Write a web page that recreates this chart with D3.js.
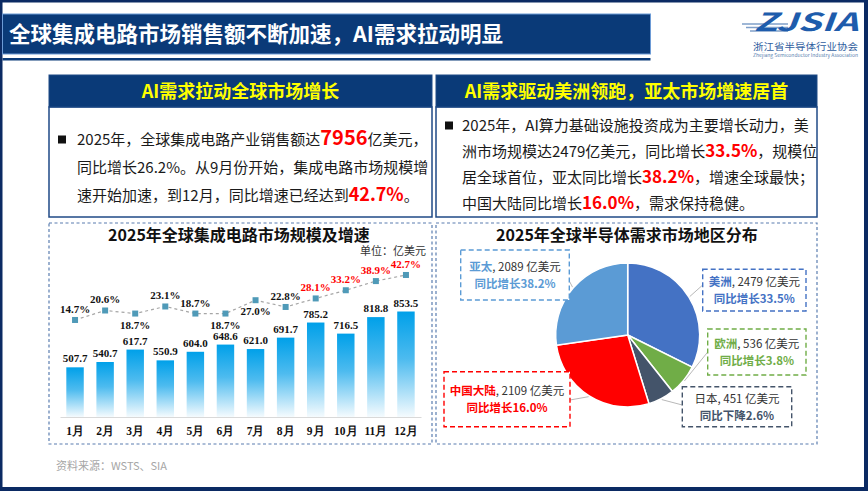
<!DOCTYPE html>
<html>
<head>
<meta charset="utf-8">
<script src="https://cdn.jsdelivr.net/npm/d3@7"></script>
<style>
  body { margin: 0; background: #fff; }
  svg { display: block; }
  text { font-family: "Noto Sans CJK SC", "Noto Sans", sans-serif; }
  .num { font-family: "Liberation Serif", "Times New Roman", serif; font-weight: bold; }
</style>
</head>
<body>
<div id="slide"></div>
<script>
// ---- data ----
const months = ["1月", "2月", "3月", "4月", "5月", "6月", "7月", "8月", "9月", "10月", "11月", "12月"];
const sales = [507.7, 540.7, 617.7, 550.9, 604.0, 648.6, 621.0, 691.7, 785.2, 716.5, 818.8, 853.5];
const growth = [14.7, 20.6, 18.7, 23.1, 18.7, 18.7, 27.0, 22.8, 28.1, 33.2, 38.9, 42.7];

const regions = ["美洲", "欧洲", "日本", "中国大陆", "亚太"];
const regionValues = [2479, 536, 451, 2109, 2089];
const regionChange = [33.5, 3.8, -2.6, 16.0, 38.2];

const W = 868, H = 491;
const navy = "#0a3a78";
const svg = d3.select("#slide").append("svg")
    .attr("width", W)
    .attr("height", H);

const defs = svg.append("defs");

// ---- frame ----
svg.append("rect").attr("width", W).attr("height", H).attr("fill", "#fff");
svg.append("rect").attr("x", 0).attr("y", 0).attr("width", W).attr("height", 2.5).attr("fill", "#0b2a63");
svg.append("rect").attr("x", 0).attr("y", 0).attr("width", 2.5).attr("height", H).attr("fill", "#0b2a63");
svg.append("rect").attr("x", W - 4).attr("y", 0).attr("width", 4).attr("height", H).attr("fill", "#0b2a63");
svg.append("rect").attr("x", 0).attr("y", H - 4).attr("width", W).attr("height", 4).attr("fill", "#0b2a63");

// ---- title bar ----
svg.append("rect")
    .attr("x", 2.5).attr("y", 14).attr("width", 648).attr("height", 40)
    .attr("fill", navy).attr("stroke", "#6d9bd6").attr("stroke-width", 1);
svg.append("rect")
    .attr("x", 2.5).attr("y", 58).attr("width", 648).attr("height", 2.5)
    .attr("fill", navy);
svg.append("text")
    .attr("x", 9).attr("y", 41.5)
    .attr("font-size", 21.5).attr("font-weight", "bold").attr("fill", "#fff")
    .text("全球集成电路市场销售额不断加速，AI需求拉动明显");

// ---- logo ----
const logo = svg.append("g");
[24, 27.5, 31].forEach((y, i) => {
    logo.append("line")
        .attr("x1", 742 + i * 4).attr("x2", 788)
        .attr("y1", y).attr("y2", y)
        .attr("stroke", "#7f9fc9").attr("stroke-width", 1.6);
});
logo.append("text")
    .attr("x", 754).attr("y", 31)
    .attr("font-family", "Liberation Sans, Arial, sans-serif")
    .attr("font-size", 25).attr("font-weight", "bold").attr("font-style", "italic")
    .attr("textLength", 104).attr("lengthAdjust", "spacingAndGlyphs")
    .attr("fill", "#1e5cac")
    .text("ZJSIA");
logo.append("text")
    .attr("x", 753).attr("y", 49.5)
    .attr("font-size", 9.5).attr("fill", "#2f5d9e")
    .attr("textLength", 105).attr("lengthAdjust", "spacingAndGlyphs")
    .text("浙江省半导体行业协会");
logo.append("text")
    .attr("x", 753).attr("y", 57)
    .attr("font-family", "Liberation Sans, Arial, sans-serif")
    .attr("font-size", 4.5).attr("fill", "#5b7fb0")
    .attr("textLength", 105).attr("lengthAdjust", "spacingAndGlyphs")
    .text("Zhejiang Semiconductor Industry Association");

// ---- summary boxes ----
function summaryBox(x, w, heading) {
    svg.append("rect")
        .attr("x", x).attr("y", 107).attr("width", w).attr("height", 110)
        .attr("fill", "#fff").attr("stroke", "#1f4a86").attr("stroke-width", 1.5);
    svg.append("rect")
        .attr("x", x).attr("y", 75).attr("width", w).attr("height", 32)
        .attr("fill", navy).attr("stroke", "#1f4a86").attr("stroke-width", 1);
    svg.append("text")
        .attr("x", x + w / 2).attr("y", 97.5)
        .attr("text-anchor", "middle")
        .attr("font-size", 18).attr("font-weight", "bold").attr("fill", "#ffff00")
        .text(heading);
}

function richLine(x, y, parts) {
    const t = svg.append("text").attr("x", x).attr("y", y)
        .attr("font-size", 15).attr("fill", "#1a1a1a");
    parts.forEach(p => {
        const s = t.append("tspan").text(p.t);
        if (p.hi) {
            s.attr("fill", "#ff0000").attr("font-weight", "bold").attr("font-size", p.hi);
        }
    });
}

function bullet(x, y) {
    svg.append("rect").attr("x", x).attr("y", y - 9.5).attr("width", 8).attr("height", 8).attr("fill", "#111");
}

summaryBox(49, 383, "AI需求拉动全球市场增长");
bullet(58, 145);
richLine(77, 145, [{t: "2025年，全球集成电路产业销售额达"}, {t: "7956", hi: 20}, {t: "亿美元，"}]);
richLine(77, 173, [{t: "同比增长26.2%。从9月份开始，集成电路市场规模增"}]);
richLine(77, 201, [{t: "速开始加速，到12月，同比增速已经达到"}, {t: "42.7%", hi: 18}, {t: "。"}]);

summaryBox(436, 381, "AI需求驱动美洲领跑，亚太市场增速居首");
bullet(445, 131);
richLine(462, 131, [{t: "2025年，AI算力基础设施投资成为主要增长动力，美"}]);
richLine(462, 157, [{t: "洲市场规模达2479亿美元，同比增长"}, {t: "33.5%", hi: 17}, {t: "，规模位"}]);
richLine(462, 183, [{t: "居全球首位，亚太同比增长"}, {t: "38.2%", hi: 17}, {t: "，增速全球最快；"}]);
richLine(462, 209, [{t: "中国大陆同比增长"}, {t: "16.0%", hi: 17}, {t: "，需求保持稳健。"}]);

// ---- chart panels ----
function panel(x, w, title, cx) {
    svg.append("rect")
        .attr("x", x).attr("y", 223).attr("width", w).attr("height", 221)
        .attr("fill", "none").attr("stroke", "#5a7db0").attr("stroke-width", 1.2)
        .attr("stroke-dasharray", "3,2.5");
    svg.append("text")
        .attr("x", cx).attr("y", 241)
        .attr("text-anchor", "middle")
        .attr("font-size", 16).attr("font-weight", "bold").attr("fill", "#111")
        .text(title);
}
panel(49, 383, "2025年全球集成电路市场规模及增速", 239);
panel(436, 381, "2025年全球半导体需求市场地区分布", 627);

// ---- bar + line chart ----
const x = d3.scaleBand().domain(months).range([60, 421])
    .paddingInner(0.42).paddingOuter(0.21);
const y = d3.scaleLinear().domain([200, 900]).range([417, 304]);
const y2 = d3.scaleLinear().domain([0, 50]).range([343.6, 263.25]);

const grad = defs.append("linearGradient")
    .attr("id", "barGrad").attr("x1", 0).attr("y1", 0).attr("x2", 0).attr("y2", 1);
grad.append("stop").attr("offset", "0%").attr("stop-color", "#00a0e9");
grad.append("stop").attr("offset", "45%").attr("stop-color", "#4dbbef");
grad.append("stop").attr("offset", "100%").attr("stop-color", "#f5fbfe");

const chart = svg.append("g");

chart.selectAll(".bar")
    .data(sales)
    .enter()
    .append("rect")
    .attr("class", "bar")
    .attr("x", (d, i) => x(months[i]))
    .attr("y", d => y(d))
    .attr("width", x.bandwidth())
    .attr("height", d => y(200) - y(d))
    .attr("fill", "url(#barGrad)");

chart.selectAll(".barLabel")
    .data(sales)
    .enter()
    .append("text")
    .attr("class", "barLabel num")
    .attr("x", (d, i) => x(months[i]) + x.bandwidth() / 2)
    .attr("y", d => y(d) - 5)
    .attr("text-anchor", "middle")
    .attr("font-size", 11)
    .attr("fill", "#111")
    .text(d => d3.format(".1f")(d));

const xAxis = d3.axisBottom(x).tickSize(0).tickPadding(10);
const xg = chart.append("g")
    .attr("transform", `translate(0, ${y(200)})`)
    .call(xAxis);
xg.select(".domain").attr("stroke", "#d9d9d9");
xg.selectAll("text")
    .attr("class", "num")
    .attr("font-size", 11.5)
    .attr("fill", "#111");

const line = d3.line()
    .x((d, i) => x(months[i]) + x.bandwidth() / 2)
    .y(d => y2(d));

chart.append("path")
    .datum(growth)
    .attr("d", line)
    .attr("fill", "none")
    .attr("stroke", "#a6a6a6")
    .attr("stroke-width", 1.2)
    .attr("stroke-dasharray", "3,3");

chart.selectAll(".marker")
    .data(growth)
    .enter()
    .append("rect")
    .attr("class", "marker")
    .attr("x", (d, i) => x(months[i]) + x.bandwidth() / 2 - 3)
    .attr("y", d => y2(d) - 3)
    .attr("width", 6)
    .attr("height", 6)
    .attr("fill", "#4f9ab8");

// which side of the marker each rate label sits on
const rateLabelBelow = [false, false, true, false, false, true, true, false, false, false, false, false];
chart.selectAll(".rateLabel")
    .data(growth)
    .enter()
    .append("text")
    .attr("class", "rateLabel num")
    .attr("x", (d, i) => x(months[i]) + x.bandwidth() / 2)
    .attr("y", (d, i) => y2(d) + (rateLabelBelow[i] ? 15 : -7))
    .attr("text-anchor", "middle")
    .attr("font-size", 11)
    .attr("fill", (d, i) => i >= 8 ? "#ff0000" : "#111")
    .text(d => d3.format(".1f")(d) + "%");

svg.append("text")
    .attr("x", 426).attr("y", 255)
    .attr("text-anchor", "end")
    .attr("font-size", 11).attr("fill", "#333")
    .text("单位：亿美元");

// ---- pie ----
const pieColors = ["#4472c4", "#70ad47", "#44546a", "#ff0000", "#5b9bd5"];
const cx = 627.7, cy = 335, r = 72;
const pie = d3.pie().sort(null).value(d => d);
const arcs = pie(regionValues);
const arc = d3.arc().innerRadius(0).outerRadius(r);

const pg = svg.append("g").attr("transform", `translate(${cx}, ${cy})`);
pg.selectAll("path")
    .data(arcs)
    .enter()
    .append("path")
    .attr("d", arc)
    .attr("fill", (d, i) => pieColors[i])
    .attr("stroke", "#fff")
    .attr("stroke-width", 1.5);

// label box layout: [x, y, w, h, leader end x, leader end y]
const boxLayout = [
    [702.7, 269.3, 103.3, 41.7, 702.7, 285],
    [707.7, 329, 98.3, 46, 707.7, 352],
    [682.3, 386.7, 109.4, 40, 682.3, 405],
    [444, 371.7, 126, 55, 570, 400],
    [460.7, 250, 108.6, 50, 569.3, 281]
];

arcs.forEach((a, i) => {
    const [bx, by, bw, bh, lx, ly] = boxLayout[i];
    const mid = (a.startAngle + a.endAngle) / 2;
    const sx = cx + (r + 1) * Math.sin(mid);
    const sy = cy - (r + 1) * Math.cos(mid);
    svg.append("line")
        .attr("x1", sx).attr("y1", sy).attr("x2", lx).attr("y2", ly)
        .attr("stroke", "#a6a6a6").attr("stroke-width", 0.8);

    svg.append("rect")
        .attr("x", bx).attr("y", by).attr("width", bw).attr("height", bh)
        .attr("fill", "#fff")
        .attr("stroke", pieColors[i]).attr("stroke-width", 1.4)
        .attr("stroke-dasharray", "5,3");

    const mx = bx + bw / 2;
    const t1 = svg.append("text")
        .attr("x", mx).attr("y", by + bh / 2 - 4)
        .attr("text-anchor", "middle")
        .attr("font-size", 11.5);
    t1.append("tspan")
        .attr("font-weight", i === 2 ? "normal" : "bold")
        .attr("fill", i === 2 ? "#333" : pieColors[i])
        .text(regions[i]);
    t1.append("tspan").attr("fill", "#333")
        .text(`, ${regionValues[i]} 亿美元`);

    const c = regionChange[i];
    svg.append("text")
        .attr("x", mx).attr("y", by + bh / 2 + 13)
        .attr("text-anchor", "middle")
        .attr("font-size", 11.5).attr("font-weight", "bold")
        .attr("fill", pieColors[i])
        .text((c < 0 ? "同比下降" : "同比增长") + d3.format(".1f")(Math.abs(c)) + "%");
});

// ---- source ----
svg.append("text")
    .attr("x", 56).attr("y", 470)
    .attr("font-size", 11).attr("fill", "#a6a6a6")
    .text("资料来源：WSTS、SIA");
</script>
</body>
</html>
